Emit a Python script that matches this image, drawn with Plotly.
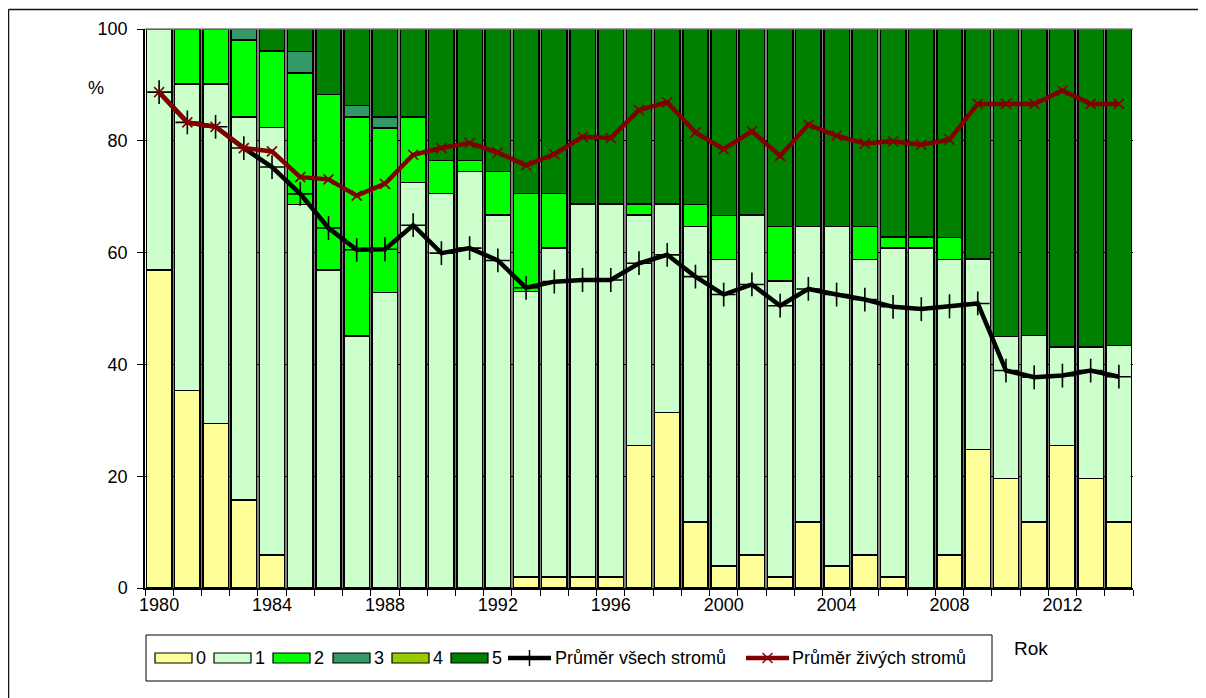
import plotly.graph_objects as go

# ---------------- data ----------------
years = list(range(1980, 2015))

cls0 = [56.9, 35.3, 29.4, 15.7, 5.9, 0, 0, 0, 0, 0,
        0, 0, 0, 2.0, 2.0, 2.0, 2.0, 25.5, 31.4, 11.8,
        3.9, 5.9, 2.0, 11.8, 3.9, 5.9, 2.0, 0, 5.9, 24.8,
        19.6, 11.8, 25.5, 19.6, 11.8]
cls1 = [43.1, 54.9, 60.8, 68.6, 76.5, 68.6, 56.9, 45.1, 52.9, 72.5,
        70.6, 74.5, 66.7, 51.0, 58.8, 66.7, 66.7, 41.2, 37.3, 52.9,
        54.9, 60.8, 52.9, 52.9, 60.8, 52.9, 58.8, 60.8, 52.9, 34.1,
        25.4, 33.4, 17.6, 23.5, 31.6]
cls2 = [0, 9.8, 9.8, 13.7, 13.7, 23.5, 31.4, 39.2, 29.4, 11.8,
        5.9, 2.0, 7.8, 17.6, 9.8, 0, 0, 2.0, 0, 3.9,
        7.8, 0, 9.8, 0, 0, 5.9, 2.0, 2.0, 3.9, 0,
        0, 0, 0, 0, 0]
cls3 = [0, 0, 0, 2.0, 0, 3.9, 0, 2.0, 2.0, 0,
        0, 0, 0, 0, 0, 0, 0, 0, 0, 0,
        0, 0, 0, 0, 0, 0, 0, 0, 0, 0,
        0, 0, 0, 0, 0]
cls4 = [0] * 35
cls5 = [0, 0, 0, 0, 3.9, 3.9, 11.7, 13.7, 15.7, 15.7,
        23.5, 23.5, 25.5, 29.4, 29.4, 31.3, 31.3, 31.3, 31.3, 31.4,
        33.4, 33.3, 35.3, 35.3, 35.3, 35.3, 37.2, 37.2, 37.3, 41.1,
        55.0, 54.8, 56.9, 56.9, 56.6]

avg_all = [88.7, 83.3, 82.5, 78.7, 75.3, 70.5, 64.4, 60.5, 60.6, 64.9,
           59.9, 60.8, 58.6, 53.7, 54.8, 55.1, 55.1, 58.1, 59.6, 55.7,
           52.5, 54.3, 50.5, 53.5, 52.5, 51.6, 50.3, 49.9, 50.4, 50.9,
           38.9, 37.7, 38.0, 38.9, 37.8]
avg_live = [88.7, 83.3, 82.5, 78.7, 78.1, 73.5, 73.1, 70.2, 72.3, 77.5,
            78.7, 79.6, 77.9, 75.6, 77.6, 80.7, 80.5, 85.5, 86.9, 81.5,
            78.5, 81.7, 77.3, 82.9, 80.9, 79.5, 79.9, 79.3, 80.2, 86.6,
            86.6, 86.6, 89.0, 86.6, 86.6]

class_names = ["0", "1", "2", "3", "4", "5"]
class_values = [cls0, cls1, cls2, cls3, cls4, cls5]
class_colors = ["#FFFF99", "#CCFFCC", "#00FF00", "#339966", "#99CC00", "#008000"]
line_names = ["Průměr všech stromů", "Průměr živých stromů"]
x_tick_labels = ["1980", "1984", "1988", "1992", "1996", "2000", "2004", "2008", "2012"]

# ---------------- layout geometry (page pixel coords) ----------------
OFF = 8                      # default body margin of the html page
W, H = 1206 - OFF, 698 - OFF
L, R, T, B = 145, 1133, 29, 588
FONT = "Arial, Liberation Sans, sans-serif"


def px(x):
    return (x - L) / (R - L)


def py(y):
    return (B - y) / (B - T)


fig = go.Figure()

for name, vals, col in zip(class_names, class_values, class_colors):
    fig.add_trace(go.Bar(
        x=years, y=[v if v else None for v in vals], name=name,
        marker=dict(color=col, line=dict(color="black", width=1.5)),
        showlegend=False))

fig.add_trace(go.Scatter(
    x=years, y=avg_all, name=line_names[0], mode="lines+markers",
    line=dict(color="black", width=4.5),
    marker=dict(symbol="cross-thin", size=17, line=dict(color="black", width=1.6)),
    showlegend=False))
fig.add_trace(go.Scatter(
    x=years, y=avg_live, name=line_names[1], mode="lines+markers",
    line=dict(color="#800000", width=4.5),
    marker=dict(symbol="x-thin", size=10, line=dict(color="#800000", width=1.6)),
    showlegend=False))

shapes = []
annotations = []

# figure border (left and top)
shapes.append(dict(type="line", xref="paper", yref="paper",
                   x0=px(8.5), x1=px(1215), y0=py(9.5), y1=py(9.5),
                   line=dict(color="#111", width=1.5)))
shapes.append(dict(type="line", xref="paper", yref="paper",
                   x0=px(8.5), x1=px(8.5), y0=py(9.5), y1=py(710),
                   line=dict(color="#111", width=1.5)))
# plot-area top border
shapes.append(dict(type="line", xref="paper", yref="paper",
                   x0=0, x1=1, y0=1, y1=1, line=dict(color="#808080", width=1.5)))

# ---------------- manual legend ----------------
shapes.append(dict(type="rect", xref="paper", yref="paper",
                   x0=px(146), x1=px(992), y0=py(635), y1=py(681),
                   line=dict(color="black", width=1), fillcolor="white"))
ly = 658
sw_x = [155, 214, 273, 333, 392, 451]
for i, (name, col) in enumerate(zip(class_names, class_colors)):
    x0 = sw_x[i]
    shapes.append(dict(type="rect", xref="paper", yref="paper",
                       x0=px(x0), x1=px(x0 + 37), y0=py(ly - 5), y1=py(ly + 5),
                       line=dict(color="black", width=1.2), fillcolor=col))
    annotations.append(dict(x=px(x0 + 39), y=py(ly), xref="paper", yref="paper",
                            text=name, showarrow=False, xanchor="left", yanchor="middle",
                            font=dict(family=FONT, size=18, color="black")))
# black line entry
shapes.append(dict(type="line", xref="paper", yref="paper",
                   x0=px(508), x1=px(551), y0=py(ly), y1=py(ly),
                   line=dict(color="black", width=4.5)))
shapes.append(dict(type="line", xref="paper", yref="paper",
                   x0=px(529.5), x1=px(529.5), y0=py(ly - 8), y1=py(ly + 8),
                   line=dict(color="black", width=1.5)))
annotations.append(dict(x=px(553), y=py(ly), xref="paper", yref="paper",
                        text=line_names[0], showarrow=False, xanchor="left", yanchor="middle",
                        font=dict(family=FONT, size=18, color="black")))
# red line entry
shapes.append(dict(type="line", xref="paper", yref="paper",
                   x0=px(746), x1=px(789), y0=py(ly), y1=py(ly),
                   line=dict(color="#800000", width=4.5)))
for s in (-1, 1):
    shapes.append(dict(type="line", xref="paper", yref="paper",
                       x0=px(767.5 - 5), x1=px(767.5 + 5), y0=py(ly - 5 * s), y1=py(ly + 5 * s),
                       line=dict(color="#800000", width=1.5)))
annotations.append(dict(x=px(790), y=py(ly), xref="paper", yref="paper",
                        text=line_names[1], showarrow=False, xanchor="left", yanchor="middle",
                        font=dict(family=FONT, size=18, color="black")))

# axis titles
annotations.append(dict(x=px(1031), y=py(648), xref="paper", yref="paper",
                        text="Rok", showarrow=False, xanchor="center", yanchor="middle",
                        font=dict(family=FONT, size=19, color="black")))
annotations.append(dict(x=px(96), y=py(88), xref="paper", yref="paper",
                        text="%", showarrow=False, xanchor="center", yanchor="middle",
                        font=dict(family=FONT, size=18, color="black")))

fig.update_layout(
    width=W, height=H,
    margin=dict(l=L - OFF, r=W - (R - OFF), t=T - OFF, b=H - (B - OFF), pad=0),
    barmode="stack", bargap=0.1,
    plot_bgcolor="white", paper_bgcolor="white",
    font=dict(family=FONT, size=18, color="black"),
    shapes=shapes, annotations=annotations,
    showlegend=False,
)
fig.update_xaxes(
    range=[1979.5, 2014.5],
    tickmode="array", tickvals=[int(t) for t in x_tick_labels], ticktext=x_tick_labels,
    ticks="", showgrid=False, zeroline=False,
    showline=True, linecolor="black", linewidth=1.5,
    tickfont=dict(family=FONT, size=18, color="black"),
    minor=dict(tick0=1979.5, dtick=1, ticks="outside", ticklen=6, tickcolor="black",
               tickwidth=1, showgrid=True, gridcolor="#808080", gridwidth=2.5),
)
fig.update_yaxes(
    range=[0, 100], tickvals=[0, 20, 40, 60, 80, 100],
    ticks="outside", ticklen=6, tickcolor="black", tickwidth=1,
    showgrid=True, gridcolor="black", gridwidth=1, zeroline=False,
    showline=True, linecolor="black", linewidth=1.5,
    tickfont=dict(family=FONT, size=18, color="black"),
    ticklabelstandoff=6,
)

fig.write_html("out.html")
